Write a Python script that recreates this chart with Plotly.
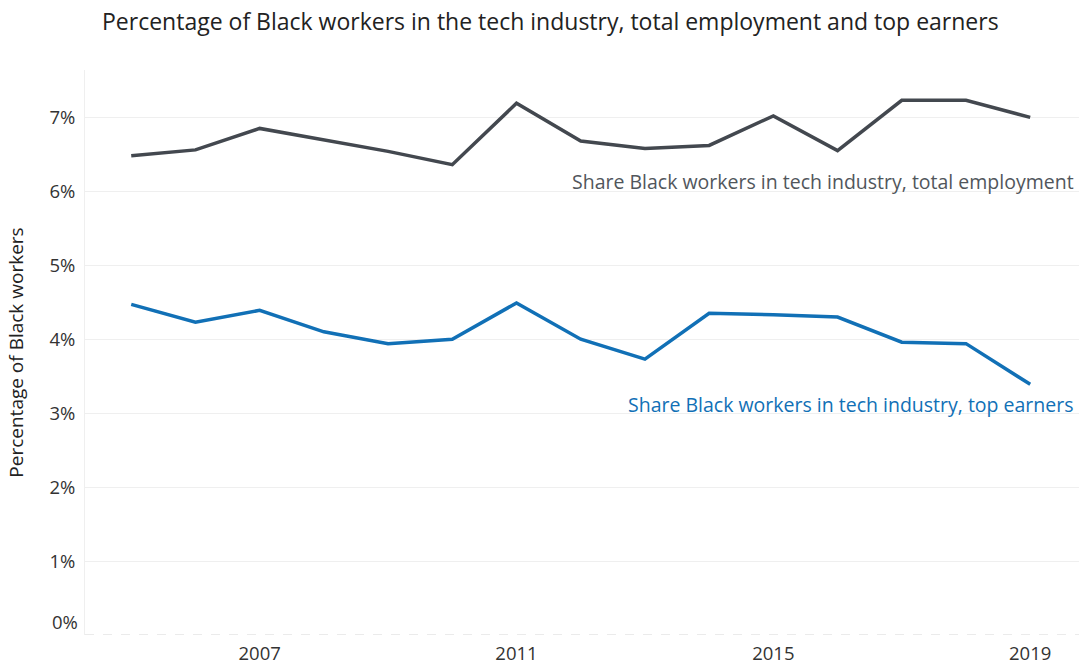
import plotly.graph_objects as go

years = list(range(2005, 2020))
total_employment = [6.48, 6.56, 6.85, 6.69, 6.54, 6.36, 7.19, 6.68, 6.58, 6.62, 7.02, 6.55, 7.23, 7.23, 7.00]
top_earners = [4.47, 4.23, 4.39, 4.10, 3.94, 4.00, 4.49, 4.00, 3.73, 4.35, 4.33, 4.30, 3.96, 3.94, 3.39]
y_ticks = [0, 1, 2, 3, 4, 5, 6, 7]
x_ticks = [2007, 2011, 2015, 2019]

DARK = "#43484f"
BLUE = "#1170b6"
FONT = "Open Sans"

fig = go.Figure()
fig.add_trace(go.Scatter(x=years, y=total_employment, mode="lines",
                         line=dict(color=DARK, width=3.5), hoverinfo="skip", showlegend=False))
fig.add_trace(go.Scatter(x=years, y=top_earners, mode="lines",
                         line=dict(color=BLUE, width=3.5), hoverinfo="skip", showlegend=False))

fig.update_layout(
    width=1084, height=667,
    margin=dict(l=85, r=5, t=70, b=32),
    paper_bgcolor="white", plot_bgcolor="white",
    font=dict(family=FONT, color="#333333", size=18),
    title=dict(text="Percentage of Black workers in the tech industry, total employment and top earners",
               x=102/1084, xanchor="left", y=1 - 22/667, yanchor="middle",
               font=dict(family=FONT, size=23, color="#222222")),
    xaxis=dict(range=[2004.28, 2019.76], tickvals=x_ticks, ticktext=[str(v) for v in x_ticks],
               showgrid=False, zeroline=False, showline=False, ticks="",
               ticklabelstandoff=5, automargin=False,
               tickfont=dict(size=18.5, color="#333333")),
    yaxis=dict(range=[0, 7.64], tickvals=y_ticks[1:], ticktext=[f"{v}%" for v in y_ticks[1:]],
               showgrid=True, gridcolor="#efefef", gridwidth=1, zeroline=False,
               showline=True, linecolor="#efefef", linewidth=1, ticks="",
               ticklabelstandoff=5, automargin=False,
               tickfont=dict(size=18.5, color="#333333"),
               title=dict(text="Percentage of Black workers", font=dict(size=19, color="#222222"),
                          standoff=20)),
)

# dashed baseline at 0
fig.add_shape(type="line", xref="paper", yref="y", x0=0, x1=1, y0=0, y1=0,
              line=dict(color="#d6d6d6", width=1, dash="dash"))
# 0% label placed above baseline
fig.add_annotation(xref="paper", yref="y", x=0, y=0, xanchor="right", yanchor="bottom",
                   xshift=-5, yshift=-1, text=f"{y_ticks[0]}%", showarrow=False,
                   font=dict(size=18.5, color="#333333", family=FONT))

fig.add_annotation(xref="paper", yref="y", x=0.997, y=6.135, xanchor="right", yanchor="middle",
                   text="Share Black workers in tech industry, total employment", showarrow=False,
                   font=dict(size=19.5, color="#51565c", family=FONT))
fig.add_annotation(xref="paper", yref="y", x=0.997, y=3.12, xanchor="right", yanchor="middle",
                   text="Share Black workers in tech industry, top earners", showarrow=False,
                   font=dict(size=19.5, color=BLUE, family=FONT))

fig.write_html("out.html")
